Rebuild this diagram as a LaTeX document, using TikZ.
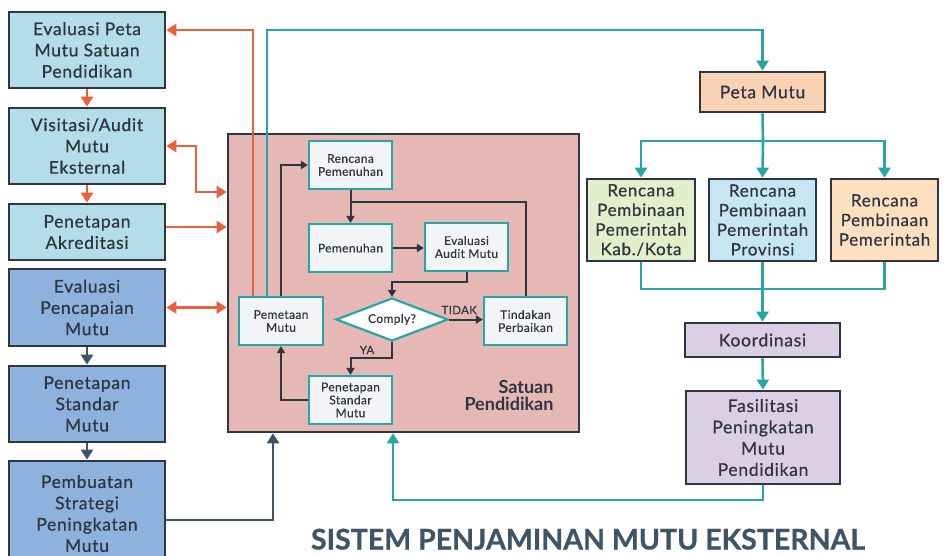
\documentclass[tikz,border=0pt]{standalone}
\usepackage{fontspec}
\setmainfont{Lato}
\newfontfamily\boxfont[FakeBold=0.7,LetterSpace=4]{Lato}
\newfontfamily\smallfont[FakeBold=0.4,LetterSpace=3]{Lato}
\newfontfamily\titlefont[FakeBold=0.6]{Lato Bold}
\usetikzlibrary{arrows.meta,shapes.geometric}
\definecolor{ink}{HTML}{2F3640}
\definecolor{slate}{HTML}{3D5566}
\definecolor{orng}{HTML}{E8603C}
\definecolor{teal}{HTML}{26A6A4}
\definecolor{lblue}{HTML}{B3DDE9}
\definecolor{mblue}{HTML}{8DB2DE}
\definecolor{rose}{HTML}{E5B8B5}
\definecolor{paper}{HTML}{F2F4F5}
\definecolor{peach}{HTML}{F9D3B4}
\definecolor{lgreen}{HTML}{E2EFCA}
\definecolor{sky}{HTML}{C5E6F2}
\definecolor{cream}{HTML}{FDE0BF}
\definecolor{lilac}{HTML}{DBCFE6}
\tikzset{
  bigbox/.style={draw=ink, line width=2.8pt, inner sep=0pt, align=center,
    text=ink, font=\boxfont\fontsize{17.5}{21.3}\selectfont},
  smallbox/.style={draw=teal, fill=paper, line width=2.2pt, inner sep=0pt,
    align=center, text=ink, minimum width=83pt, minimum height=48pt,
    font=\smallfont\fontsize{12}{13}\selectfont},
  rbox/.style={bigbox, font=\boxfont\fontsize{17}{19.6}\selectfont},
  bigtip/.style={-{Triangle[width=12pt,length=10pt]}},
  bothtip/.style={{Triangle[width=12pt,length=10pt]}-{Triangle[width=12pt,length=10pt]}},
  smalltip/.style={-{Triangle[width=8pt,length=7pt]}},
  oline/.style={draw=orng, line width=2.6pt},
  tline/.style={draw=teal, line width=2.6pt},
  sline/.style={draw=slate, line width=2.6pt},
  iline/.style={draw=ink, line width=2pt},
}
\begin{document}
\begin{tikzpicture}[x=1pt,y=-1pt]
\useasboundingbox (0,0) rectangle (947,555);
\fill[white] (0,0) rectangle (947,555);

% left column
\node[bigbox, fill=lblue, minimum width=156pt, minimum height=76pt] (L1) at (87,50) {Evaluasi Peta\\Mutu Satuan\\Pendidikan};
\node[bigbox, fill=lblue, minimum width=156pt, minimum height=76pt] (L2) at (87,146) {Visitasi/Audit\\Mutu\\Eksternal};
\node[bigbox, fill=lblue, minimum width=156pt, minimum height=56pt] (L3) at (87,232) {Penetapan\\Akreditasi};
\node[bigbox, fill=mblue, minimum width=156pt, minimum height=77pt] (L4) at (87,307.5) {Evaluasi\\Pencapaian\\Mutu};
\node[bigbox, fill=mblue, minimum width=156pt, minimum height=76pt] (L5) at (87,404) {Penetapan\\Standar\\Mutu};
\node[bigbox, fill=mblue, minimum width=156pt, minimum height=105pt] (L6) at (87,513.5) {Pembuatan\\Strategi\\Peningkatan\\Mutu};

% school unit
\node[draw=ink, fill=rose, line width=2.6pt, minimum width=351pt, minimum height=298pt] (sp) at (403.5,283) {};
\node[anchor=east, align=right, text=ink, font=\bfseries\fontsize{18}{17}\selectfont] (spl) at (557,395) {Satuan\\Pendidikan};

\node[smallbox] (rp) at (350.5,165) {Rencana\\Pemenuhan};
\node[smallbox] (pm) at (350.5,248) {Pemenuhan};
\node[smallbox] (ea) at (466.5,247) {Evaluasi\\Audit Mutu};
\node[smallbox, minimum width=84pt] (pmt) at (281,321) {Pemetaan\\Mutu};
\node[smallbox] (tp) at (525.5,321) {Tindakan\\Perbaikan};
\node[smallbox] (ps) at (350.5,400) {Penetapan\\Standar\\Mutu};
\node[diamond, draw=teal, fill=white, line width=2.2pt, inner sep=0pt, aspect=2.5,
  minimum width=112pt, minimum height=43pt, text=ink,
  font=\smallfont\fontsize{12}{13}\selectfont] (cp) at (392,319.5) {Comply?};

% right side
\node[rbox, fill=peach, minimum width=125pt, minimum height=40pt, font=\boxfont\fontsize{17.5}{20}\selectfont] (peta) at (762.5,92) {Peta Mutu};
\node[rbox, fill=lgreen, minimum width=108pt, minimum height=82pt] (kab) at (641,220) {Rencana\\Pembinaan\\Pemerintah\\Kab./Kota};
\node[rbox, fill=sky, minimum width=107pt, minimum height=82pt] (prov) at (762.5,220) {Rencana\\Pembinaan\\Pemerintah\\Provinsi};
\node[rbox, fill=cream, minimum width=107pt, minimum height=82pt] (pem) at (884.5,220) {Rencana\\Pembinaan\\Pemerintah};
\node[rbox, fill=lilac, minimum width=155pt, minimum height=34pt, font=\boxfont\fontsize{17.5}{20}\selectfont] (koor) at (762.5,340) {Koordinasi};
\node[bigbox, fill=lilac, minimum width=154pt, minimum height=93pt] (fas) at (763,437.5) {Fasilitasi\\Peningkatan\\Mutu\\Pendidikan};

% orange links
\draw[oline, bigtip] (L1.south) -- (L2.north);
\draw[oline, bigtip] (L2.south) -- (L3.north);
\coordinate (o1) at (253,30);
\draw[oline, bigtip] (pmt.north -| o1) -- (o1) -- (o1 -| L1.east);
\coordinate (o2) at (196,192);
\draw[oline, bothtip] (L2.east) -| (o2) -- (o2 -| sp.west);
\coordinate (o3) at (0,227);
\draw[oline, bigtip] (o3 -| L3.east) -- (o3 -| sp.west);
\draw[oline, bothtip] (L4.east) -- (L4.east -| sp.west);

% slate links
\draw[sline, bigtip] (L4.south) -- (L5.north);
\draw[sline, bigtip] (L5.south) -- (L6.north);
\coordinate (d1) at (273,520);
\draw[sline, bigtip] (d1 -| L6.east) -- (d1) -- (d1 |- sp.south);

% teal links
\coordinate (t1) at (267,30);
\draw[tline, bigtip] (pmt.north -| t1) -- (t1) -| (peta.north);
\coordinate (br) at (763,141);
\draw[tline] (peta.south) -- (br);
\draw[tline, bigtip] (br) -| (kab.north);
\draw[tline, bigtip] (br) -| (pem.north);
\draw[tline, bigtip] (br) -- (prov.north);
\coordinate (mg) at (763,289);
\draw[tline] (kab.south) |- (mg);
\draw[tline] (pem.south) |- (mg);
\draw[tline, bigtip] (prov.south) -- (koor.north);
\draw[tline, bigtip] (koor.south) -- (fas.north);
\coordinate (fb) at (393,500);
\draw[tline, bigtip] (fas.south) |- (fb) -- (fb |- sp.south);

% inner flow
\draw[iline, smalltip] (pmt.north) |- (rp.west);
\draw[iline, smalltip] (rp.south) -- (pm.north);
\coordinate (i2) at (526,202);
\draw[iline] (tp.north) |- (rp.south |- i2);
\draw[iline, smalltip] (pm.east) -- (pm.east -| ea.west);
\coordinate (i3) at (467,282);
\draw[iline, smalltip] (ea.south) |- (cp.north |- i3) -- (cp.north);
\draw[iline, smalltip] (cp.east) -- (cp.east -| tp.west)
  node[pos=0.3, above=1pt, text=ink, font=\smallfont\fontsize{11.5}{13}\selectfont] {TIDAK};
\coordinate (i4) at (392,358);
\draw[iline, smalltip] (cp.south) -- (i4) -| (ps.north);
\node[text=ink, font=\smallfont\fontsize{11.5}{13}\selectfont] (ya) at (367,350) {YA};
\draw[iline, smalltip] (ps.west) -| (pmt.south);

% title
\node[anchor=base, inner sep=0pt, text=slate, font=\titlefont\fontsize{28.5}{30}\selectfont] (title) at (588,549.5) {SISTEM PENJAMINAN MUTU EKSTERNAL};
\end{tikzpicture}
\end{document}
